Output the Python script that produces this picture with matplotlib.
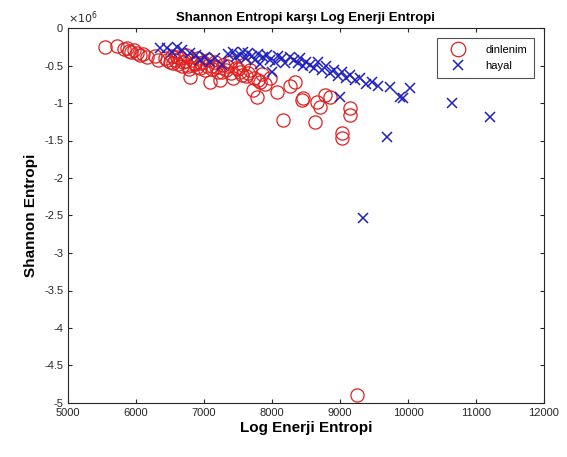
import matplotlib
matplotlib.use("Agg")
import matplotlib.pyplot as plt
from matplotlib.ticker import FuncFormatter, MultipleLocator

plt.rcParams['font.family'] = ['Liberation Sans', 'DejaVu Sans']

# dinlenim (red circles): Log Enerji Entropi, Shannon Entropi
dinlenim_x = [5544, 5720, 5824, 5868, 5926, 5970, 6015, 6060, 6160, 6280, 6320, 6430, 6500, 6530,
              6575, 6620, 6650, 6690, 6735, 6765, 6795, 6825, 6870, 6910, 6940, 6985, 7015, 7060,
              7090, 7115, 7160, 7205, 7235, 7280, 7320, 7380, 7425, 7470, 7530, 7575, 7620, 7675,
              7720, 7780, 7795, 7855, 7900, 7970, 8075, 8160, 8265, 8340, 8440, 8455, 8630, 8660,
              8705, 8780, 8850, 9030, 9030, 9145, 9145, 9250,
              6460, 6550, 6600, 6680, 6720, 6780, 6850, 6900, 6960, 7040, 7120, 7180, 7260, 7340,
              7400, 7500, 7560, 7650, 7740, 7820, 5900, 6100]
dinlenim_y = [-0.25, -0.24, -0.28, -0.27, -0.32, -0.29, -0.33, -0.36, -0.39, -0.37, -0.43, -0.40,
              -0.45, -0.37, -0.43, -0.48, -0.40, -0.45, -0.36, -0.51, -0.65, -0.43, -0.48, -0.40,
              -0.53, -0.45, -0.56, -0.43, -0.72, -0.51, -0.45, -0.59, -0.69, -0.49, -0.56, -0.45,
              -0.67, -0.53, -0.59, -0.49, -0.64, -0.56, -0.83, -0.92, -0.69, -0.61, -0.75, -0.67,
              -0.85, -1.23, -0.77, -0.72, -0.96, -0.93, -1.25, -0.99, -1.05, -0.89, -0.92, -1.40,
              -1.47, -1.07, -1.16, -4.89,
              -0.42, -0.47, -0.39, -0.50, -0.44, -0.55, -0.46, -0.52, -0.47, -0.50, -0.55, -0.52,
              -0.58, -0.51, -0.60, -0.54, -0.62, -0.60, -0.66, -0.72, -0.30, -0.35]
dinlenim_y = [v * 1e6 for v in dinlenim_y]

# hayal (blue crosses)
hayal_x = [6355, 6455, 6530, 6600, 6675, 6795, 6880, 6940, 7015, 7090, 7160, 7265, 7355, 7425,
           7470, 7530, 7575, 7620, 7650, 7705, 7750, 7795, 7825, 7870, 7925, 7970, 8000, 8045,
           8090, 8145, 8190, 8265, 8325, 8380, 8410, 8455, 8500, 8560, 8620, 8675, 8735, 8795,
           8850, 8910, 8970, 9000, 9030, 9090, 9145, 9220, 9295, 9340, 9385, 9470, 9560, 9690,
           9735, 9880, 9925, 10030, 10645, 11205]
hayal_y = [-0.27, -0.27, -0.32, -0.25, -0.29, -0.33, -0.36, -0.43, -0.39, -0.45, -0.40, -0.49,
           -0.35, -0.32, -0.39, -0.36, -0.32, -0.40, -0.33, -0.37, -0.43, -0.35, -0.48, -0.39,
           -0.36, -0.43, -0.59, -0.45, -0.37, -0.40, -0.47, -0.39, -0.43, -0.47, -0.40, -0.51,
           -0.45, -0.49, -0.53, -0.45, -0.56, -0.51, -0.60, -0.56, -0.64, -0.92, -0.59, -0.67,
           -0.63, -0.69, -0.67, -2.53, -0.75, -0.72, -0.77, -1.45, -0.79, -0.92, -0.93, -0.80,
           -1.00, -1.19]
hayal_y = [v * 1e6 for v in hayal_y]

fig = plt.figure(figsize=(5.67, 4.57), dpi=100)
ax = fig.add_axes([68/567, 54/457, (544-68)/567, (403-28)/457])

ax.plot(dinlenim_x, dinlenim_y, 'o', mfc='none', mec='#e02020', mew=0.9, ms=9.5, label='dinlenim')
ax.plot(hayal_x, hayal_y, 'x', color='#2020c0', mew=1.1, ms=7, label='hayal')

ax.set_xlim(5000, 12000)
ax.set_ylim(-5e6, 0)
ax.xaxis.set_major_locator(MultipleLocator(1000))
ax.yaxis.set_major_locator(MultipleLocator(0.5e6))
ax.yaxis.set_major_formatter(FuncFormatter(lambda v, p: f"{v/1e6:g}"))
ax.xaxis.set_major_formatter(FuncFormatter(lambda v, p: f"{v:g}"))
ax.tick_params(direction='in', top=True, right=True, labelsize=8, colors='#262626', length=3)
for s in ax.spines.values():
    s.set_color('#262626')
    s.set_linewidth(0.8)

ax.text(0.0, 1.005, r'$\times10^6$', transform=ax.transAxes, fontsize=8, color='#262626',
        ha='left', va='bottom')
ax.set_title('Shannon Entropi karşı Log Enerji Entropi', fontsize=9.5, fontweight='bold', pad=5)
ax.set_xlabel('Log Enerji Entropi', fontsize=11, fontweight='bold', labelpad=2)
ax.set_ylabel('Shannon Entropi', fontsize=11, fontweight='bold', labelpad=4)

leg = ax.legend(loc='upper right', fontsize=8, frameon=True, fancybox=False, edgecolor='#262626',
                borderaxespad=0.9, handletextpad=1.2, handlelength=2.6, borderpad=0.6,
                labelspacing=0.6, markerscale=1.1)
leg.get_frame().set_linewidth(0.8)

fig.savefig('out.png', dpi=100)
